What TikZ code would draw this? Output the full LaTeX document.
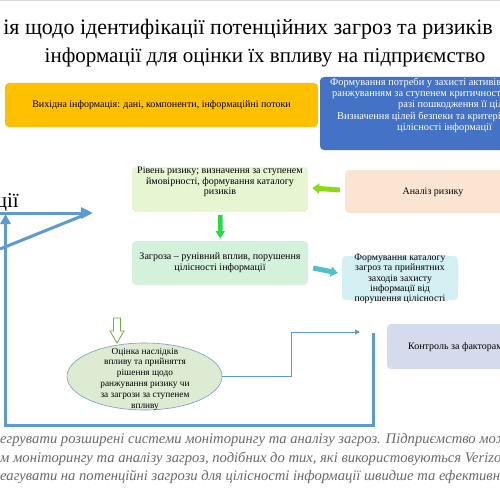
\documentclass[tikz,border=0pt]{standalone}
\usepackage{fontspec}
\setmainfont{Liberation Serif}
\usetikzlibrary{shapes.geometric,shapes.arrows,arrows.meta}
\definecolor{yel}{HTML}{FFC000}
\definecolor{bluebox}{HTML}{4472C4}
\definecolor{lgreen}{HTML}{E6F5D2}
\definecolor{mint}{HTML}{D4F1DC}
\definecolor{peach}{HTML}{FCE4D2}
\definecolor{cyanbox}{HTML}{D3EFF1}
\definecolor{lav}{HTML}{D5DAEC}
\definecolor{ell}{HTML}{DCEBD2}
\definecolor{ellb}{HTML}{7F9CBF}
\definecolor{fr}{HTML}{5B9BD5}
\definecolor{brgreen}{HTML}{22DD44}
\definecolor{lime}{HTML}{8CDB10}
\definecolor{teal}{HTML}{4CC3C6}
\definecolor{hollow}{HTML}{70AD47}
\definecolor{bodytxt}{HTML}{6A6A6A}
\tikzset{
  box/.style={rectangle, rounded corners=4pt, inner sep=0pt, font=\fontsize{10}{10.8}\selectfont, align=center},
  ttl/.style={font=\fontsize{21}{24}\selectfont, inner sep=0pt},
  bt/.style={font=\fontsize{14.6}{16}\selectfont\itshape, text=bodytxt, inner sep=0pt, anchor=base west},
  wt/.style={font=\fontsize{10.4}{11}\selectfont, text=white, inner sep=0pt, anchor=base west},
  thick blue/.style={draw=fr, line width=3pt},
  blockarr/.style={line width=5pt, -{Triangle[length=7pt,width=10pt]}}
}
\begin{document}
\begin{tikzpicture}[x=1pt,y=-1pt]
\useasboundingbox (0,0) rectangle (500,500);
\clip (0,0) rectangle (500,500);
\fill[white] (0,0) rectangle (500,500);
\fill[black!15] (0,0) rectangle (500,1.5);
% title
\node[ttl, font=\fontsize{22}{24}\selectfont, anchor=base east] (t1) at (493,35) {ія щодо ідентифікації потенційних загроз та ризиків};
\node[ttl, anchor=base] (t2) at (265,63) {інформації для оцінки їх впливу на підприємство};
\node[ttl, anchor=base east] (t3) at (19,207) {ації};
% top boxes
\node[box, fill=yel, minimum width=313pt, minimum height=44pt] (src) at (161.5,105) {Вихідна інформація: дані, компоненти, інформаційні потоки};
\node[box, fill=bluebox, minimum width=200pt, minimum height=73pt] (goal) at (420,113.5) {};
\node[wt] (g1) at (330,86) {Формування потреби у захисті активів};
\node[wt] (g2) at (332,97) {ранжуванням за ступенем критичності};
\node[wt] (g3) at (398,107) {разі пошкодження її цілісно};
\node[wt] (g4) at (337,120) {Визначення цілей безпеки та критерії};
\node[wt] (g5) at (397,131) {цілісності інформації};
% middle boxes
\node[box, fill=lgreen, minimum width=176pt, minimum height=45pt] (lvl) at (220,189.5) {};
\node[box, anchor=north] (lvlt) at (220,166.5) {Рівень ризику; визначення за ступенем\\ймовірності, формування каталогу\\ризиків};
\node[box, fill=peach, minimum width=170pt, minimum height=43pt] (ana) at (430,191.5) {};
\node[box] (anat) at (433,192) {Аналіз ризику};
\node[box, fill=mint, minimum width=176pt, minimum height=44pt] (thr) at (220,263) {Загроза -- рунівний вплив, порушення\\цілісності інформації};
\node[box, fill=cyanbox, minimum width=116pt, minimum height=44pt] (cat) at (400,278) {};
\node[box, font=\fontsize{9.8}{10.3}\selectfont] (catt) at (400,279) {Формування каталогу\\загроз та прийнятних\\заходів захисту\\інформації від\\порушення цілісності};
\node[box, fill=lav, minimum width=140pt, minimum height=45pt] (ctl) at (457,346.5) {};
\node[box, anchor=west] (ctlt) at (408,347) {Контроль за факторами};
% ellipse
\node[ellipse, draw=ellb, line width=0.6pt, fill=ell, minimum width=155pt, minimum height=67pt, inner sep=0pt] (est) at (144.5,376.5) {};
\node[box, font=\fontsize{9.3}{10.8}\selectfont] (estt) at (145,379) {Оцінка наслідків\\впливу та прийняття\\рішення щодо\\ранжування ризику чи\\за загрози за ступенем\\впливу};
% block arrows
\fill[brgreen] (218,215) rectangle (222.5,231) -- (215.5,231) -- (220.25,238.5) -- (225,231) -- cycle;
\draw[lime, blockarr] ([xshift=-5pt,yshift=1.5pt]ana.west) -- ([xshift=4pt,yshift=1.5pt]lvl.east);
\draw[teal, blockarr] ([xshift=5pt,yshift=-5pt]thr.east) -- ([xshift=-4pt,yshift=5pt]cat.west);
\draw[hollow, fill=white, line width=0.8pt, line join=miter] (113.5,318) -- (120.5,318) -- (120.5,331) -- (124,331) -- (117,343) -- (110,331) -- (113.5,331) -- cycle;
% thin connector
\coordinate (cend) at (360,332);
\draw[fr, line width=0.8pt, -{Triangle[length=5pt,width=5pt]}] (est.east) -| (291,332) -- (cend);
% blue frame and arrows
\coordinate (fa) at (373,333);
\coordinate (fb) at (373,425);
\coordinate (fc) at (5.5,425);
\coordinate (fd) at (5.5,214);
\draw[thick blue, -{Triangle[length=10pt,width=10pt]}] (fa) -- (fb) -- (fc) -- (fd);
\coordinate (ha) at (0,213);
\coordinate (hb) at (93,213);
\draw[thick blue, -{Triangle[length=12pt,width=11pt]}] (ha) -- (hb);
\coordinate (da) at (0,249);
\coordinate (db) at (83,215.5);
\draw[thick blue] (da) -- (db);
% bottom text
\node[bt] (b1) at (0,443) {егрувати розширені системи моніторингу та аналізу загроз. Підприємство може};
\node[bt] (b2) at (0,462) {м моніторингу та аналізу загроз, подібних до тих, які використовуються Verizon};
\node[bt] (b3) at (0,480) {еагувати на потенційні загрози для цілісності інформації швидше та ефективніше};
\end{tikzpicture}
\end{document}
